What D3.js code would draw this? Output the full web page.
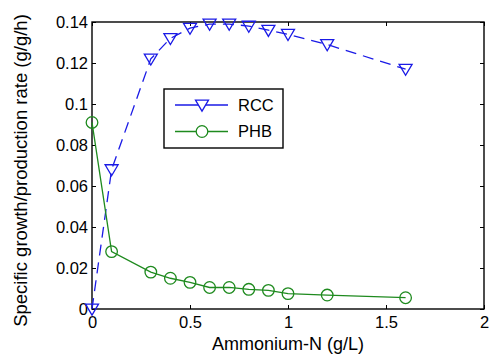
<!DOCTYPE html>
<html><head><meta charset="utf-8">
<script src="https://cdn.jsdelivr.net/npm/d3@7"></script>
<style>body{margin:0;background:#fff}svg{display:block}text{font-family:"Liberation Sans",Arial,sans-serif;fill:#000}</style>
</head><body>
<script>
const xVals = [0, 0.1, 0.3, 0.4, 0.5, 0.6, 0.7, 0.8, 0.9, 1.0, 1.2, 1.6];
const rccVals = [0, 0.068, 0.122, 0.132, 0.137, 0.139, 0.139, 0.138, 0.136, 0.134, 0.129, 0.117];
const phbVals = [0.091, 0.028, 0.018, 0.015, 0.013, 0.0105, 0.0105, 0.0096, 0.0091, 0.0075, 0.0068, 0.0055];
const xTicks = [0, 0.5, 1, 1.5, 2];
const yTicks = [0, 0.02, 0.04, 0.06, 0.08, 0.1, 0.12, 0.14];
const seriesNames = ["RCC", "PHB"];

const W = 489, H = 363;
const m = {l: 92, r: 5, t: 22, b: 54};
const svg = d3.select("body").append("svg").attr("width", W).attr("height", H);
const x = d3.scaleLinear().domain([0, 2]).range([m.l, W - m.r]);
const y = d3.scaleLinear().domain([0, 0.14]).range([H - m.b, m.t]);

const fs = 16.5;
// axes
const gx = svg.append("g").attr("transform", `translate(0,${H - m.b})`)
  .call(d3.axisBottom(x).tickValues(xTicks).tickFormat(d3.format("")).tickSizeInner(-4).tickSizeOuter(0).tickPadding(7));
const gxt = svg.append("g").attr("transform", `translate(0,${m.t})`)
  .call(d3.axisTop(x).tickValues(xTicks).tickFormat("").tickSizeInner(-4).tickSizeOuter(0));
const gy = svg.append("g").attr("transform", `translate(${m.l},0)`)
  .call(d3.axisLeft(y).tickValues(yTicks).tickFormat(d3.format("")).tickSizeInner(-4).tickSizeOuter(0).tickPadding(4));
const gyr = svg.append("g").attr("transform", `translate(${W - m.r},0)`)
  .call(d3.axisRight(y).tickValues(yTicks).tickFormat("").tickSizeInner(-4).tickSizeOuter(0));
[gx, gxt, gy, gyr].forEach(g => {
  g.select(".domain").remove();
  g.selectAll("line").attr("stroke", "#000");
  g.selectAll("text").style("font-size", fs + "px").attr("fill", "#000");
});
svg.append("rect").attr("x", m.l).attr("y", m.t).attr("width", W - m.r - m.l).attr("height", H - m.b - m.t)
  .attr("fill", "none").attr("stroke", "#000").attr("stroke-width", 1.4);

const rccColor = "#1a1ae6", phbColor = "#1e8a1e";
const line = d3.line().x(d => x(d[0])).y(d => y(d[1]));
const rcc = xVals.map((v, i) => [v, rccVals[i]]);
const phb = xVals.map((v, i) => [v, phbVals[i]]);

svg.append("path").datum(rcc).attr("d", line).attr("fill", "none").attr("stroke", rccColor)
  .attr("stroke-width", 1.3).attr("stroke-dasharray", "11,7");
svg.append("path").datum(phb).attr("d", line).attr("fill", "none").attr("stroke", phbColor).attr("stroke-width", 1.3);

const tri = s => `M${-s},${-s * 0.75}L${s},${-s * 0.75}L0,${s * 0.95}Z`;
svg.append("g").selectAll("path").data(rcc).join("path")
  .attr("transform", d => `translate(${x(d[0])},${y(d[1])})`)
  .attr("d", tri(6.5)).attr("fill", "none").attr("stroke", rccColor).attr("stroke-width", 1.3);
svg.append("g").selectAll("circle").data(phb).join("circle")
  .attr("cx", d => x(d[0])).attr("cy", d => y(d[1])).attr("r", 5.8)
  .attr("fill", "none").attr("stroke", phbColor).attr("stroke-width", 1.3);

// legend
const lg = svg.append("g");
lg.append("rect").attr("x", 164).attr("y", 89).attr("width", 119).attr("height", 59)
  .attr("fill", "#fff").attr("stroke", "#000").attr("stroke-width", 1.4);
const rows = [{name: seriesNames[0], c: rccColor, yy: 105}, {name: seriesNames[1], c: phbColor, yy: 131.5}];
rows.forEach((r, i) => {
  lg.append("line").attr("x1", 175).attr("x2", 228).attr("y1", r.yy).attr("y2", r.yy).attr("stroke", r.c).attr("stroke-width", 1.3);
  if (i === 0) lg.append("path").attr("transform", `translate(202,${r.yy})`).attr("d", tri(6.5)).attr("fill", "#fff").attr("stroke", r.c).attr("stroke-width", 1.3);
  else lg.append("circle").attr("cx", 202).attr("cy", r.yy).attr("r", 5.8).attr("fill", "#fff").attr("stroke", r.c).attr("stroke-width", 1.3);
  lg.append("text").attr("x", 238).attr("y", r.yy).attr("dy", "0.36em").style("font-size", "16.5px").text(r.name);
});

svg.append("text").attr("x", (m.l + W - m.r) / 2).attr("y", 350).attr("text-anchor", "middle")
  .style("font-size", "18px").text("Ammonium-N (g/L)");
svg.append("text").attr("transform", `translate(27,${(m.t + H - m.b) / 2 + 5}) rotate(-90)`).attr("text-anchor", "middle")
  .style("font-size", "18.5px").text("Specific growth/production rate (g/g/h)");
</script>
</body></html>
